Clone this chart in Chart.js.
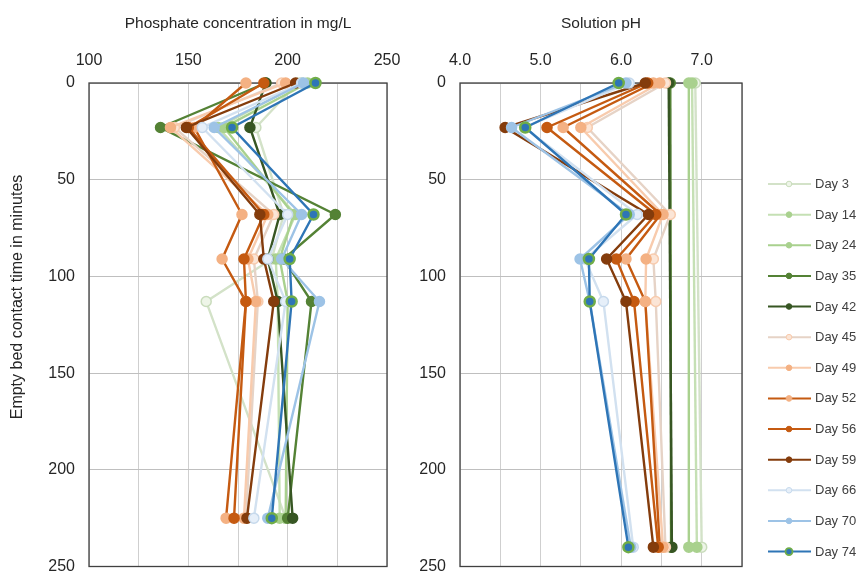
<!DOCTYPE html>
<html>
<head>
<meta charset="utf-8">
<script src="https://cdn.jsdelivr.net/npm/chart.js@4"></script>
<style>
  html, body { margin: 0; padding: 0; background: #fff; }
  #wrap { position: relative; width: 857px; height: 574px; }
  #phosChart { position: absolute; left: 0; top: 0; width: 400px; height: 574px; }
  #phChart { position: absolute; left: 400px; top: 0; width: 457px; height: 574px; }
</style>
</head>
<body>
<div id="wrap">
  <canvas id="phosChart" width="400" height="574"></canvas>
  <canvas id="phChart" width="457" height="574"></canvas>
</div>
<script>
const days = ['Day 3', 'Day 14', 'Day 24', 'Day 35', 'Day 42', 'Day 45', 'Day 49',
              'Day 52', 'Day 56', 'Day 59', 'Day 66', 'Day 70', 'Day 74'];

// sampling ports down the column (empty bed contact time, minutes)
const phosTimes = [0, 23, 68, 91, 113, 225];
const phTimes = [0, 23, 68, 91, 113, 240];
const phTimesEnds = [0, 240];

// phosphate, mg/L
const phos3  = [205, 184, 198, 192, 159, 199];
const phos14 = [207, 165, 204, 194, 195, 196];
const phos24 = [210, 168, 203, 196, 200, 199];
const phos35 = [189, 136, 224, 198, 212, 200];
const phos42 = [189, 181, 196, 190, 195, 202.5];
const phos45 = [197, 143, 193, 183, 185, 179];
const phos49 = [199, 141, 190, 180, 184, 178];
const phos52 = [179, 153, 177, 167, 179, 169];
const phos56 = [188, 150, 188, 178, 179, 173];
const phos59 = [204, 149, 186, 188, 193, 179.5];
const phos66 = [207, 157, 200, 190, 199, 183];
const phos70 = [208, 163, 207, 197, 216, 190];
const phos74 = [214, 172, 213, 201, 202, 192];

// solution pH (early days only measured at inlet and outlet)
const ph3  = [6.92, 7.00];
const ph14 = [6.88, 6.94];
const ph24 = [6.84, 6.84];
const ph35 = [6.61, 6.62];
const ph42 = [6.59, 6.63];
const ph45 = [6.55, 5.58, 6.61, 6.40, 6.43, 6.55];
const ph49 = [6.48, 5.50, 6.52, 6.31, 6.30, 6.52];
const ph52 = [6.40, 5.28, 6.49, 6.06, 6.30, 6.48];
const ph56 = [6.33, 5.08, 6.43, 5.94, 6.16, 6.46];
const ph59 = [6.30, 4.56, 6.34, 5.82, 6.06, 6.40];
const ph66 = [6.10, 4.80, 6.20, 5.55, 5.78, 6.15];
const ph70 = [6.06, 4.64, 6.10, 5.49, 5.61, 6.12];
const ph74 = [5.97, 4.81, 6.06, 5.60, 5.61, 6.09];

const phosValues = [phos3, phos14, phos24, phos35, phos42, phos45, phos49,
                    phos52, phos56, phos59, phos66, phos70, phos74];
const phValues = [ph3, ph14, ph24, ph35, ph42, ph45, ph49,
                  ph52, ph56, ph59, ph66, ph70, ph74];

const lineColors = ['#d3e2c8', '#c5e0b4', '#a9d18e', '#548235', '#375623', '#e6d3c6', '#f8cbad',
                    '#c55a11', '#c55a11', '#843c0c', '#d2e1f0', '#9dc3e6', '#2e75b6'];
const markerFill = ['#eef5e8', '#a9d18e', '#a9d18e', '#548235', '#375623', '#fbe5d6', '#f4b183',
                    '#f4b183', '#c55a11', '#843c0c', '#e6eff9', '#9dc3e6', '#2e75b6'];
const markerEdge = ['#c9dcbc', '#a9d18e', '#a9d18e', '#548235', '#375623', '#f8cbad', '#f4b183',
                    '#f4b183', '#c55a11', '#843c0c', '#c6d9ec', '#9dc3e6', '#70ad47'];

Chart.defaults.font.family = "'Liberation Sans', Arial, sans-serif";
Chart.defaults.color = '#404040';

const FONT_TICK = { size: 16 };
const FONT_TITLE = { size: 15.5 };

function points(vals, times) {
  return vals.map((v, i) => ({ x: v, y: times[i] }));
}

function makeDatasets(valueSets, timesFor) {
  return days.map((d, i) => ({
    label: d,
    data: points(valueSets[i], timesFor(i)),
    showLine: true,
    borderColor: lineColors[i],
    borderWidth: 2.4,
    backgroundColor: markerFill[i],
    pointBackgroundColor: markerFill[i],
    pointBorderColor: markerEdge[i],
    pointBorderWidth: i === 12 ? 2.5 : 1.5,
    pointRadius: 5,
    clip: false,
    order: days.length - 1 - i   // later days drawn on top
  }));
}

// plot frame goes under the lines so the top row of markers sits over it
const framePlugin = {
  id: 'frame',
  beforeDatasetsDraw(chart) {
    const { ctx, chartArea: a } = chart;
    ctx.save();
    ctx.strokeStyle = '#404040';
    ctx.lineWidth = 1.3;
    ctx.strokeRect(a.left, a.top, a.right - a.left, a.bottom - a.top);
    ctx.restore();
  }
};

const yTitlePlugin = {
  id: 'yTitle',
  afterDraw(chart) {
    const ctx = chart.ctx;
    ctx.save();
    ctx.translate(18, 297);
    ctx.rotate(-Math.PI / 2);
    ctx.font = "16px 'Liberation Sans', Arial, sans-serif";
    ctx.fillStyle = '#262626';
    ctx.textAlign = 'center';
    ctx.textBaseline = 'middle';
    ctx.fillText('Empty bed contact time in minutes', 0, 0);
    ctx.restore();
  }
};

const legendPlugin = {
  id: 'dayLegend',
  afterDraw(chart) {
    const ctx = chart.ctx;
    ctx.save();
    days.forEach((d, i) => {
      const y = 184 + i * 30.63;
      ctx.strokeStyle = lineColors[i];
      ctx.lineWidth = 2;
      ctx.beginPath();
      ctx.moveTo(368, y);
      ctx.lineTo(411, y);
      ctx.stroke();
      ctx.beginPath();
      ctx.arc(389, y, i === 12 ? 3.5 : 2.8, 0, Math.PI * 2);
      ctx.fillStyle = markerFill[i];
      ctx.fill();
      ctx.lineWidth = i === 12 ? 1.8 : 1;
      ctx.strokeStyle = markerEdge[i];
      ctx.stroke();
      ctx.font = "13px 'Liberation Sans', Arial, sans-serif";
      ctx.fillStyle = '#404040';
      ctx.textAlign = 'left';
      ctx.textBaseline = 'middle';
      ctx.fillText(d, 415, y + 0.5);
    });
    ctx.restore();
  }
};

function yAxis(width) {
  return {
    type: 'linear',
    reverse: true,
    min: 0,
    max: 250,
    ticks: { stepSize: 50, padding: 14, font: FONT_TICK, color: '#262626' },
    grid: { color: '#bfbfbf', lineWidth: 1, drawTicks: false },
    border: { display: false },
    afterFit(s) { s.width = width; s.paddingTop = 0; s.paddingBottom = 0; }
  };
}

function xAxis(min, max, step, label, fmt) {
  return {
    type: 'linear',
    position: 'top',
    min: min,
    max: max,
    ticks: { stepSize: step, padding: 13, font: FONT_TICK, color: '#262626', callback: fmt, maxRotation: 0, autoSkip: false },
    grid: { color: '#cfcfcf', lineWidth: 1, drawTicks: false },
    border: { display: false },
    title: { display: true, text: label, font: FONT_TITLE, color: '#262626', padding: { top: 14, bottom: 0 } },
    afterFit(s) { s.height = 83; s.paddingLeft = 0; s.paddingRight = 0; }
  };
}

const baseOptions = {
  responsive: false,
  animation: false,
  plugins: { legend: { display: false }, tooltip: { enabled: false } }
};

new Chart(document.getElementById('phosChart'), {
  type: 'scatter',
  data: { datasets: makeDatasets(phosValues, () => phosTimes) },
  options: {
    ...baseOptions,
    layout: { padding: { left: 0, right: 13, top: 0, bottom: 7 } },
    scales: {
      x: xAxis(100, 250, 25, 'Phosphate concentration in mg/L', v => (v % 50 === 0 ? v : '')),
      y: yAxis(89)
    }
  },
  plugins: [framePlugin, yTitlePlugin]
});

new Chart(document.getElementById('phChart'), {
  type: 'scatter',
  data: { datasets: makeDatasets(phValues, i => (i < 5 ? phTimesEnds : phTimes)) },
  options: {
    ...baseOptions,
    layout: { padding: { left: 0, right: 115, top: 0, bottom: 7 } },
    scales: {
      x: xAxis(4, 7.5, 0.5, 'Solution pH', v => (Number.isInteger(v) ? v.toFixed(1) : '')),
      y: yAxis(60)
    }
  },
  plugins: [framePlugin, legendPlugin]
});
</script>
</body>
</html>
